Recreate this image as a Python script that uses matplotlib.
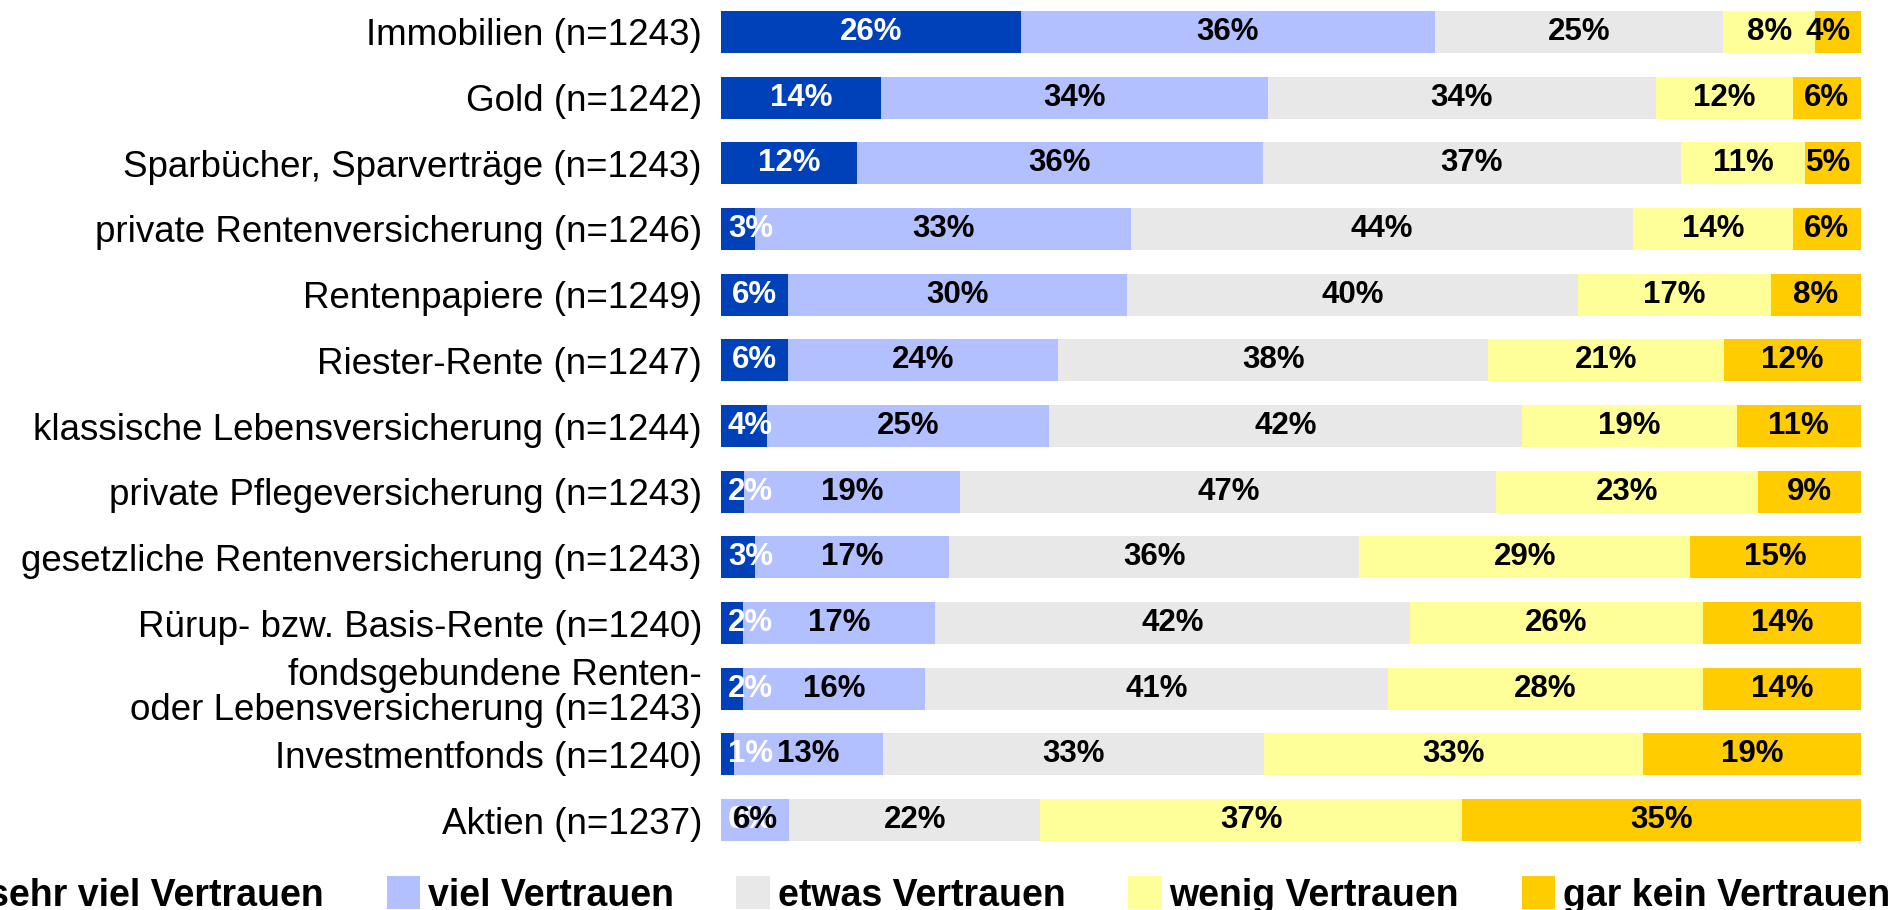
import matplotlib
matplotlib.use('Agg')
from matplotlib import pyplot as plt
from matplotlib.patches import Patch

categories = ['Immobilien (n=1243)', 'Gold (n=1242)', 'Sparbücher, Sparverträge (n=1243)',
              'private Rentenversicherung (n=1246)', 'Rentenpapiere (n=1249)',
              'Riester-Rente (n=1247)', 'klassische Lebensversicherung (n=1244)',
              'private Pflegeversicherung (n=1243)', 'gesetzliche Rentenversicherung (n=1243)',
              'Rürup- bzw. Basis-Rente (n=1240)',
              'fondsgebundene Renten-\noder Lebensversicherung (n=1243)',
              'Investmentfonds (n=1240)', 'Aktien (n=1237)']

series_names = ['sehr viel Vertrauen', 'viel Vertrauen', 'etwas Vertrauen',
                'wenig Vertrauen', 'gar kein Vertrauen']

sehr_viel = [26.3, 14, 11.9, 3, 5.9, 5.9, 4.0, 2, 3, 1.9, 1.9, 1.1, 0]
viel = [36.3, 34, 35.6, 33, 29.7, 23.7, 24.8, 19, 17, 16.9, 16.0, 13.1, 6]
etwas = [25.3, 34, 36.7, 44, 39.6, 37.7, 41.5, 47, 36, 41.6, 40.6, 33.4, 22]
wenig = [8.1, 12, 10.9, 14, 16.9, 20.7, 18.8, 23, 29, 25.7, 27.6, 33.3, 37]
gar_kein = [4.0, 6, 4.9, 6, 7.9, 12.0, 10.9, 9, 15, 13.9, 13.9, 19.1, 35]

colors = ['#0040b8', '#b3c0ff', '#e8e8e8', '#ffff99', '#ffcc00']
label_colors = ['white', 'black', 'black', 'black', 'black']

plt.rcParams['font.family'] = ['Liberation Sans', 'DejaVu Sans']

fig = plt.figure(figsize=(18.99, 9.10), dpi=100)
ax = fig.add_axes([721 / 1899, 58 / 910, 1140 / 1899, 852 / 910])

ypos = list(range(len(categories)))
series = [sehr_viel, viel, etwas, wenig, gar_kein]
left = [0.0] * len(categories)
texts = []
for vals, col, tcol in zip(series, colors, label_colors):
    ax.barh(ypos, vals, left=left, height=0.64, color=col, linewidth=0)
    for i, v in enumerate(vals):
        t = ax.text(left[i] + v / 2, i, '%d%%' % round(v), ha='center', va='center',
                    color=tcol, fontsize=22.5, fontweight='bold')
        texts.append(t)
    left = [a + b for a, b in zip(left, vals)]

ax.set_xlim(0, 100)
ax.set_ylim(12.487, -0.487)
ax.set_yticks(ypos)
ax.set_yticklabels(categories, fontsize=26.5, linespacing=1.0)
ax.tick_params(axis='y', length=0, pad=13.7)
ax.set_xticks([])
for s in ax.spines.values():
    s.set_visible(False)

# keep small labels inside the bar area
fig.canvas.draw()
r = fig.canvas.get_renderer()
px0 = ax.transData.transform((0, 0))[0]
px1 = ax.transData.transform((100, 0))[0]
ppu = (px1 - px0) / 100.0
for t in texts:
    bb = t.get_window_extent(r)
    shift = 0
    if bb.x0 < px0 + 7:
        shift = px0 + 7 - bb.x0
    elif bb.x1 > px1 - 10:
        shift = px1 - 10 - bb.x1
    if shift:
        x, y = t.get_position()
        t.set_position((x + shift / ppu, y))

handles = [Patch(facecolor=c, edgecolor='none') for c in colors]
fig.legend(handles, series_names, ncol=5, loc='center', bbox_to_anchor=(0.4837, 0.0165),
           frameon=False, prop={'size': 27, 'weight': 'bold'},
           handlelength=0.9, handleheight=0.95, handletextpad=0.2,
           columnspacing=1.67, borderpad=0, borderaxespad=0)

fig.savefig('out.png', dpi=100)
